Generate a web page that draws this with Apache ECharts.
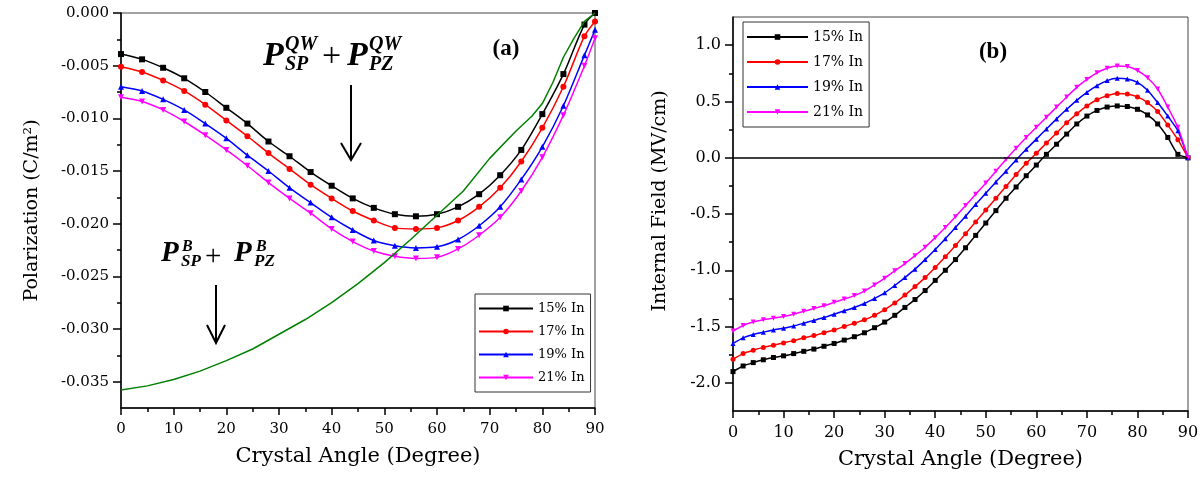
<!DOCTYPE html>
<html><head><meta charset="utf-8">
<script src="https://cdn.jsdelivr.net/npm/echarts@6/dist/echarts.min.js"></script>
<style>html,body{margin:0;padding:0;background:#fff}#c{width:1204px;height:479px}</style>
</head><body><div id="c"></div>
<script>
// ---------- data ----------
const seriesNames = ['15% In', '17% In', '19% In', '21% In'];

// (a) Polarization vs crystal angle
const polAngles = [0, 4, 8, 12, 16, 20, 24, 28, 32, 36, 40, 44, 48, 52, 56, 60, 64, 68, 72, 76, 80, 84, 88, 90];
const pol15 = [-0.0039, -0.0044, -0.0052, -0.0062, -0.0075, -0.0090, -0.0105, -0.0122, -0.0136, -0.0151, -0.0164, -0.0176, -0.0185, -0.0191, -0.0193, -0.0191, -0.0184, -0.0172, -0.0154, -0.0130, -0.0096, -0.0058, -0.0011, 0.0000];
const pol17 = [-0.0051, -0.0056, -0.0064, -0.0074, -0.0087, -0.0102, -0.0117, -0.0133, -0.0148, -0.0163, -0.0176, -0.0188, -0.0197, -0.0204, -0.0205, -0.0204, -0.0197, -0.0184, -0.0166, -0.0141, -0.0109, -0.0070, -0.0022, -0.0008];
const pol19 = [-0.0070, -0.0074, -0.0082, -0.0092, -0.0105, -0.0119, -0.0135, -0.0150, -0.0166, -0.0180, -0.0194, -0.0206, -0.0216, -0.0221, -0.0223, -0.0222, -0.0215, -0.0202, -0.0184, -0.0158, -0.0127, -0.0088, -0.0040, -0.0016];
const pol21 = [-0.0080, -0.0084, -0.0092, -0.0103, -0.0116, -0.0130, -0.0145, -0.0161, -0.0176, -0.0190, -0.0205, -0.0217, -0.0226, -0.0231, -0.0233, -0.0232, -0.0224, -0.0211, -0.0194, -0.0169, -0.0137, -0.0097, -0.0050, -0.0024];
const bulkAngles = [0, 5, 10, 15, 20, 25, 30, 35, 40, 45, 50, 55, 60, 65, 70, 75, 78, 80, 82, 84, 86, 88, 90];
const bulkPol = [-0.0358, -0.0354, -0.0348, -0.0340, -0.0330, -0.0319, -0.0305, -0.0291, -0.0275, -0.0257, -0.0237, -0.0215, -0.0192, -0.0169, -0.0138, -0.0112, -0.0098, -0.0086, -0.0066, -0.0042, -0.0024, -0.0008, 0.0000];

// (b) Internal field vs crystal angle
const fieldAngles = [0, 2, 4, 6, 8, 10, 12, 14, 16, 18, 20, 22, 24, 26, 28, 30, 32, 34, 36, 38, 40, 42, 44, 46, 48, 50, 52, 54, 56, 58, 60, 62, 64, 66, 68, 70, 72, 74, 76, 78, 80, 82, 84, 86, 88, 90];
const field15 = [-1.90, -1.85, -1.82, -1.795, -1.775, -1.76, -1.74, -1.72, -1.70, -1.675, -1.65, -1.62, -1.59, -1.555, -1.51, -1.46, -1.40, -1.33, -1.26, -1.18, -1.09, -1.00, -0.905, -0.80, -0.69, -0.58, -0.47, -0.36, -0.26, -0.16, -0.065, 0.03, 0.12, 0.21, 0.30, 0.37, 0.42, 0.45, 0.46, 0.455, 0.43, 0.38, 0.30, 0.18, 0.03, 0.0];
const field17 = [-1.79, -1.74, -1.71, -1.685, -1.665, -1.645, -1.625, -1.60, -1.58, -1.555, -1.53, -1.50, -1.47, -1.44, -1.40, -1.35, -1.29, -1.22, -1.145, -1.065, -0.975, -0.88, -0.78, -0.675, -0.57, -0.465, -0.36, -0.255, -0.15, -0.05, 0.04, 0.13, 0.22, 0.31, 0.39, 0.46, 0.515, 0.55, 0.57, 0.565, 0.54, 0.49, 0.41, 0.29, 0.16, 0.0];
const field19 = [-1.65, -1.60, -1.57, -1.55, -1.53, -1.515, -1.495, -1.47, -1.445, -1.42, -1.39, -1.36, -1.33, -1.295, -1.25, -1.20, -1.135, -1.065, -0.99, -0.905, -0.815, -0.72, -0.62, -0.52, -0.415, -0.315, -0.215, -0.12, -0.02, 0.075, 0.165, 0.255, 0.345, 0.43, 0.51, 0.58, 0.64, 0.685, 0.705, 0.70, 0.67, 0.60, 0.49, 0.37, 0.24, 0.0];
const field21 = [-1.54, -1.49, -1.46, -1.44, -1.425, -1.41, -1.39, -1.365, -1.34, -1.315, -1.285, -1.255, -1.225, -1.185, -1.13, -1.07, -1.005, -0.94, -0.87, -0.795, -0.71, -0.62, -0.525, -0.425, -0.325, -0.225, -0.12, -0.015, 0.085, 0.18, 0.27, 0.36, 0.45, 0.54, 0.625, 0.695, 0.755, 0.795, 0.815, 0.81, 0.775, 0.71, 0.61, 0.45, 0.27, 0.0];

// tick labels
const angleTicks = [0, 10, 20, 30, 40, 50, 60, 70, 80, 90];
const polTicks = [0, -0.005, -0.010, -0.015, -0.020, -0.025, -0.030, -0.035];
const polMinorTicks = [-0.0025, -0.0075, -0.0125, -0.0175, -0.0225, -0.0275, -0.0325];
const fieldTicks = [1.0, 0.5, 0.0, -0.5, -1.0, -1.5, -2.0];
const fieldMinorTicks = [0.75, 0.25, -0.25, -0.75, -1.25, -1.75];

// ---------- styles ----------
const colors = ['#000000', '#ff0000', '#0000ff', '#ff00ff'];
const symbols = ['rect', 'circle', 'triangle', 'triangle'];
const symbolRot = [0, 0, 0, 180];
const serif = 'DejaVu Serif';

const chart = echarts.init(document.getElementById('c'), null, {renderer: 'canvas'});

const G = [
  {left: 121, top: 13, width: 474, height: 395},
  {left: 733, top: 17, width: 455, height: 394}
];

function xAx(gi, fs) {
  return {
    type: 'value', gridIndex: gi, min: 0, max: 90, interval: 10,
    name: 'Crystal Angle (Degree)', nameLocation: 'middle', nameGap: 38,
    nameTextStyle: {fontFamily: serif, fontSize: 21, color: '#000'},
    axisLine: {show: true, onZero: false, lineStyle: {color: '#000', width: 1.5}},
    axisTick: {show: true, length: 7, customValues: angleTicks, lineStyle: {color: '#000', width: 1.5}},
    minorTick: {show: true, splitNumber: 2, length: 4, lineStyle: {color: '#000', width: 1.5}},
    axisLabel: {customValues: angleTicks, fontFamily: serif, fontSize: fs, color: '#000', margin: 14,
      showMinLabel: true, showMaxLabel: true},
    splitLine: {show: false}, minorSplitLine: {show: false}
  };
}
function yAxMain(gi, min, max, ticks, fmt, name, gap, fs, pad) {
  return {
    type: 'value', gridIndex: gi, min: min, max: max, position: 'left',
    name: name, nameLocation: 'middle', nameGap: gap,
    nameTextStyle: {fontFamily: serif, fontSize: 19, color: '#000', padding: pad},
    axisLine: {show: true, onZero: false, lineStyle: {color: '#000', width: 1.5}},
    axisTick: {show: true, length: 8, customValues: ticks, lineStyle: {color: '#000', width: 1.5}},
    axisLabel: {customValues: ticks, formatter: v => v.toFixed(fmt), fontFamily: serif, fontSize: fs, color: '#000', margin: 12},
    splitLine: {show: false}
  };
}
function yAxMinor(gi, min, max, ticks) {
  return {
    type: 'value', gridIndex: gi, min: min, max: max, position: 'left',
    axisLine: {show: false},
    axisTick: {show: true, length: 4, customValues: ticks, lineStyle: {color: '#000', width: 1.5}},
    axisLabel: {show: false, customValues: ticks},
    splitLine: {show: false}
  };
}

const series = [];
const polData = [pol15, pol17, pol19, pol21];
const fieldData = [field15, field17, field19, field21];
seriesNames.forEach((n, i) => {
  series.push({
    name: n, type: 'line', xAxisIndex: 0, yAxisIndex: 0,
    data: polAngles.map((a, k) => [a, polData[i][k]]),
    symbol: symbols[i], symbolRotate: symbolRot[i], symbolSize: 6, showAllSymbol: true,
    smooth: 0.3, lineStyle: {color: colors[i], width: 1.5}, itemStyle: {color: colors[i]},
    z: 3, animation: false
  });
});
series.push({
  name: 'bulk', type: 'line', xAxisIndex: 0, yAxisIndex: 0,
  data: bulkAngles.map((a, k) => [a, bulkPol[k]]),
  symbol: 'none', lineStyle: {color: '#008000', width: 1.5}, itemStyle: {color: '#008000'},
  z: 4, animation: false
});
seriesNames.forEach((n, i) => {
  const s = {
    name: n, type: 'line', xAxisIndex: 1, yAxisIndex: 2,
    data: fieldAngles.map((a, k) => [a, fieldData[i][k]]),
    symbol: symbols[i], symbolRotate: symbolRot[i], symbolSize: 5, showAllSymbol: true,
    smooth: 0.2, lineStyle: {color: colors[i], width: 1.5}, itemStyle: {color: colors[i]},
    z: 3, animation: false
  };
  if (i === 0) {
    s.markLine = {silent: true, symbol: 'none', animation: false,
      label: {show: false}, lineStyle: {color: '#000', width: 1.5, type: 'solid'},
      data: [{yAxis: 0}]};
  }
  series.push(s);
});

function legendAt(left, top, iw, gap, fs) {
  return {
    data: seriesNames, left: left, top: top, orient: 'vertical',
    itemWidth: iw, itemHeight: 7, itemGap: gap, padding: [8, 6, 8, 3],
    borderColor: '#333', borderWidth: 1, backgroundColor: '#fff', selectedMode: false,
    textStyle: {fontFamily: serif, fontSize: fs, color: '#000'}
  };
}

function T(x, y, text, size, italic, bold) {
  return {type: 'text', x: x, y: y, z: 100,
    style: {text: text, fontFamily: 'Liberation Serif', fontSize: size,
      fontWeight: bold ? 'bold' : 'normal', fontStyle: italic ? 'italic' : 'normal',
      fill: '#000', align: 'left', verticalAlign: 'middle'}};
}

const graphic = [
  // top annotation (quantum well)
  T(263, 56, 'P', 34, true, true), T(285, 45, 'QW', 20, true, true), T(285, 65, 'SP', 20, true, true),
  T(322, 57, '+', 34, false, false),
  T(347, 56, 'P', 34, true, true), T(369, 45, 'QW', 20, true, true), T(369, 65, 'PZ', 20, true, true),
  {type: 'line', z: 100, shape: {x1: 351, y1: 85, x2: 351, y2: 159}, style: {stroke: '#000', lineWidth: 2}},
  {type: 'polyline', z: 100, shape: {points: [[341, 143], [351, 160], [361, 143]]}, style: {stroke: '#000', lineWidth: 2, fill: null}},
  // bottom annotation (bulk)
  T(161, 254, 'P', 29, true, true), T(182, 247, 'B', 16, true, true), T(181, 262, 'SP', 17, true, true),
  T(205, 257, '+', 29, false, false),
  T(234, 254, 'P', 29, true, true), T(256, 247, 'B', 16, true, true), T(254, 262, 'PZ', 17, true, true),
  {type: 'line', z: 100, shape: {x1: 216, y1: 285, x2: 216, y2: 342}, style: {stroke: '#000', lineWidth: 2}},
  {type: 'polyline', z: 100, shape: {points: [[207, 325], [216, 343], [225, 325]]}, style: {stroke: '#000', lineWidth: 2, fill: null}},
  // panel letters
  {type: 'text', x: 506, y: 49, z: 100, style: {text: '(a)', fontFamily: 'Liberation Serif', fontSize: 23, fontWeight: 'bold', fill: '#000', align: 'center', verticalAlign: 'middle'}},
  {type: 'text', x: 993, y: 52, z: 100, style: {text: '(b)', fontFamily: 'Liberation Serif', fontSize: 23, fontWeight: 'bold', fill: '#000', align: 'center', verticalAlign: 'middle'}}
];

chart.setOption({
  animation: false,
  backgroundColor: '#fff',
  grid: G.map(g => Object.assign({show: true, borderColor: '#444', borderWidth: 1, backgroundColor: 'transparent', containLabel: false}, g)),
  xAxis: [xAx(0, 15), xAx(1, 16)],
  yAxis: [
    yAxMain(0, -0.0375, 0, polTicks, 3, 'Polarization (C/m²)', 79, 15, [0, 0, 0, 0]),
    yAxMinor(0, -0.0375, 0, polMinorTicks),
    yAxMain(1, -2.25, 1.25, fieldTicks, 1, 'Internal Field (MV/cm)', 63, 16, [0, 0, 0, 26]),
    yAxMinor(1, -2.25, 1.25, fieldMinorTicks)
  ],
  legend: [legendAt(475, 294, 54, 10, 13), legendAt(743, 22, 61, 11, 14)],
  series: series,
  graphic: graphic
});
</script>
</body></html>
